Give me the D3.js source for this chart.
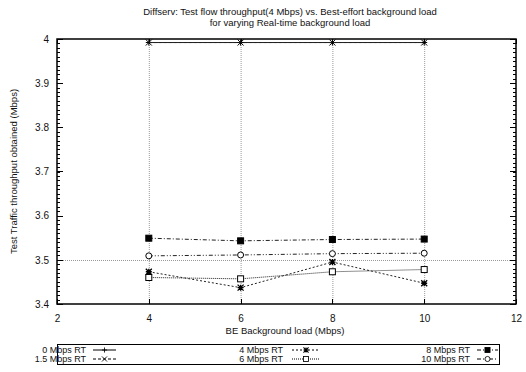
<!DOCTYPE html>
<html><head><meta charset="utf-8">
<script src="https://cdn.jsdelivr.net/npm/d3@7"></script>
<style>body{margin:0;background:#fff}svg{display:block}text{font-family:"Liberation Sans",Arial,sans-serif;fill:#111}</style>
</head><body><svg id="c" width="526" height="372"></svg>
<script>
const xValues = [4, 6, 8, 10];
const seriesNames = ["0 Mbps RT", "1.5 Mbps RT", "4 Mbps RT", "6 Mbps RT", "8 Mbps RT", "10 Mbps RT"];
const rt0 = [3.992, 3.992, 3.992, 3.992];
const rt15 = [3.992, 3.992, 3.992, 3.992];
const rt4 = [3.473, 3.437, 3.495, 3.447];
const rt6 = [3.460, 3.457, 3.473, 3.478];
const rt8 = [3.549, 3.543, 3.546, 3.547];
const rt10 = [3.509, 3.511, 3.514, 3.515];
const xTicks = [2, 4, 6, 8, 10, 12];
const yTicks = [3.4, 3.5, 3.6, 3.7, 3.8, 3.9, 4];
const titleLines = ["Diffserv: Test flow throughput(4 Mbps) vs. Best-effort background load", "for varying Real-time background load"];

const series = [
  {name: seriesNames[0], v: rt0, dash: null, marker: "plus"},
  {name: seriesNames[1], v: rt15, dash: "3,2", marker: "cross"},
  {name: seriesNames[2], v: rt4, dash: "2,2", marker: "star"},
  {name: seriesNames[3], v: rt6, dash: "1,1", marker: "square"},
  {name: seriesNames[4], v: rt8, dash: "4,2,1,2", marker: "fsquare"},
  {name: seriesNames[5], v: rt10, dash: "4,2,1,2,1,2", marker: "circle"}
];

const svg = d3.select("#c");
const L = 57, R = 516, T = 39, B = 304;
const x = d3.scaleLinear().domain([2, 12]).range([L, R]);
const y = d3.scaleLinear().domain([3.4, 4]).range([B, T]);

// title
svg.append("text").attr("x", 290).attr("y", 15).attr("text-anchor", "middle").attr("font-size", 9.5).text(titleLines[0]);
svg.append("text").attr("x", 290).attr("y", 26).attr("text-anchor", "middle").attr("font-size", 9.5).text(titleLines[1]);

// grid
const grid = svg.append("g").attr("stroke", "#999").attr("stroke-width", 1).attr("stroke-dasharray", "1,1");
[4, 6, 8, 10].forEach(v => grid.append("line").attr("x1", x(v)+0.5).attr("x2", x(v)+0.5).attr("y1", T).attr("y2", B));
grid.append("line").attr("x1", L).attr("x2", R).attr("y1", Math.round(y(3.5))+0.5).attr("y2", Math.round(y(3.5))+0.5);

// minor ticks on y
const minor = d3.range(0, 61).map(i => 3.4 + i * 0.01);
const tk = svg.append("g").attr("stroke", "#000").attr("stroke-width", 1);
minor.forEach(v => {
  const yy = Math.round(y(v)) + 0.5;
  tk.append("line").attr("x1", L).attr("x2", L + 3).attr("y1", yy).attr("y2", yy);
  tk.append("line").attr("x1", R).attr("x2", R - 3).attr("y1", yy).attr("y2", yy);
});
yTicks.forEach(v => {
  const yy = Math.round(y(v)) + 0.5;
  tk.append("line").attr("x1", L).attr("x2", L + 6).attr("y1", yy).attr("y2", yy);
  tk.append("line").attr("x1", R).attr("x2", R - 6).attr("y1", yy).attr("y2", yy);
});
xTicks.forEach(v => {
  const xx = Math.round(x(v)) + 0.5;
  tk.append("line").attr("x1", xx).attr("x2", xx).attr("y1", B).attr("y2", B - 5);
  tk.append("line").attr("x1", xx).attr("x2", xx).attr("y1", T).attr("y2", T + 5);
});

// axes labels
const yAxis = d3.axisLeft(y).tickValues(yTicks).tickSize(0).tickPadding(8).tickFormat(d => d === 4 ? "4" : d3.format(".1f")(d));
const gy = svg.append("g").attr("transform", `translate(${L},0)`).call(yAxis);
gy.select(".domain").remove();
gy.selectAll("text").attr("font-size", 10).attr("font-family", "Liberation Sans, Arial, sans-serif");
const xAxis = d3.axisBottom(x).tickValues(xTicks).tickSize(0).tickPadding(11).tickFormat(d3.format("d"));
const gx = svg.append("g").attr("transform", `translate(0,${B})`).call(xAxis);
gx.select(".domain").remove();
gx.selectAll("text").attr("font-size", 10).attr("font-family", "Liberation Sans, Arial, sans-serif");

svg.append("text").attr("x", 285).attr("y", 334).attr("text-anchor", "middle").attr("font-size", 9.5).text("BE Background load (Mbps)");
svg.append("text").attr("transform", `translate(17,${(T+B)/2}) rotate(-90)`).attr("text-anchor", "middle").attr("font-size", 9.5).text("Test Traffic throughput obtained (Mbps)");

function marker(g, type, cx, cy) {
  const s = 3;
  const p = g.append("g").attr("stroke", "#000").attr("stroke-width", 1).attr("fill", "none");
  if (type === "plus") {
    p.append("path").attr("d", `M${cx-s},${cy}H${cx+s}M${cx},${cy-s}V${cy+s}`);
  } else if (type === "cross") {
    p.append("path").attr("d", `M${cx-s},${cy-s}L${cx+s},${cy+s}M${cx-s},${cy+s}L${cx+s},${cy-s}`);
  } else if (type === "star") {
    p.append("path").attr("d", `M${cx-s},${cy}H${cx+s}M${cx},${cy-s}V${cy+s}M${cx-s},${cy-s}L${cx+s},${cy+s}M${cx-s},${cy+s}L${cx+s},${cy-s}`).attr("stroke-width", 1.3);
  } else if (type === "square") {
    p.append("rect").attr("x", cx-s).attr("y", cy-s).attr("width", 2*s).attr("height", 2*s).attr("fill", "#fff");
  } else if (type === "fsquare") {
    p.append("rect").attr("x", cx-s).attr("y", cy-s).attr("width", 2*s).attr("height", 2*s).attr("fill", "#000");
  } else if (type === "circle") {
    p.append("circle").attr("cx", cx).attr("cy", cy).attr("r", s).attr("fill", "#fff");
  }
}

const line = d3.line().x((d, i) => x(xValues[i])).y(d => y(d));
series.forEach(s => {
  const path = svg.append("path").datum(s.v).attr("d", line).attr("fill", "none").attr("stroke", "#222").attr("stroke-width", 1);
  if (s.dash) path.attr("stroke-dasharray", s.dash);
  s.v.forEach((v, i) => marker(svg, s.marker, x(xValues[i]), y(v)));
});

// frame
svg.append("rect").attr("x", L).attr("y", T).attr("width", R - L).attr("height", B - T).attr("fill", "none").attr("stroke", "#000").attr("stroke-width", 1.5);

// legend
const lg = svg.append("g");
lg.append("rect").attr("x", 57.5).attr("y", 344.5).attr("width", 442).attr("height", 20).attr("fill", "none").attr("stroke", "#000").attr("stroke-width", 1);
const colText = [86, 283, 470];
const colSample = [[93, 116], [292, 320], [477, 498]];
series.forEach((s, i) => {
  const col = Math.floor(i / 2), row = i % 2;
  const yy = 350 + row * 9;
  lg.append("text").attr("x", colText[col]).attr("y", yy + 3.3).attr("text-anchor", "end").attr("font-size", 9).text(s.name);
  const ln = lg.append("line").attr("x1", colSample[col][0]).attr("x2", colSample[col][1]).attr("y1", yy).attr("y2", yy).attr("stroke", "#000").attr("stroke-width", 1);
  if (s.dash) ln.attr("stroke-dasharray", s.dash);
  const mg = lg.append("g").attr("transform", `translate(${(colSample[col][0]+colSample[col][1])/2},${yy}) scale(0.85)`);
  marker(mg, s.marker, 0, 0);
});
</script></body></html>
